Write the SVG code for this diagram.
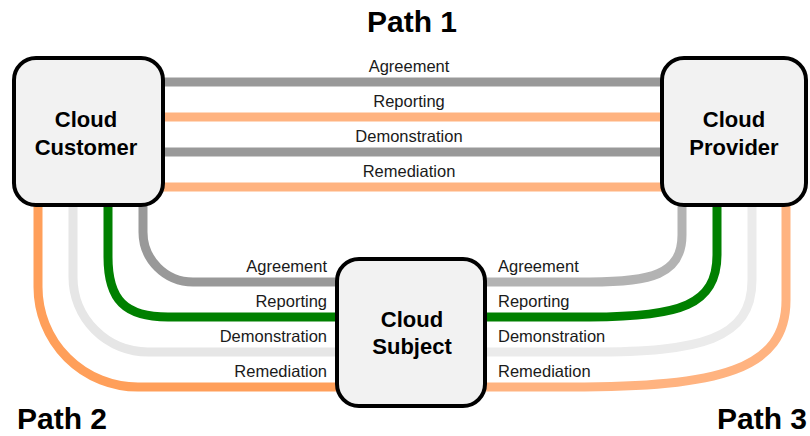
<svg xmlns="http://www.w3.org/2000/svg" width="810" height="436" viewBox="0 0 810 436">
<style>
.c{fill:none;stroke-width:9}
.g1{stroke:#999999}.g2{stroke:#b3b3b3}
.o1{stroke:#ffb380}.o2{stroke:#ff9f5a}
.lg1{stroke:#e6e6e6}.lg2{stroke:#ebebeb}
.gr{stroke:#008000}
.lbl{font-family:"Liberation Sans",Arial,sans-serif;font-size:16.5px;fill:#1a1a1a}
.node rect{fill:#f2f2f2;stroke:#000;stroke-width:4}
.node text{font-family:"Liberation Sans",Arial,sans-serif;font-size:22px;font-weight:bold;fill:#000;text-anchor:middle}
.title{font-family:"Liberation Sans",Arial,sans-serif;font-size:30px;font-weight:bold;fill:#000}
</style>
<rect width="810" height="436" fill="#fff"/>
<g id="connectors">
  <line class="c g1" x1="163" y1="82" x2="662" y2="82"/>
  <line class="c o1" x1="163" y1="117" x2="662" y2="117"/>
  <line class="c g1" x1="163" y1="152" x2="662" y2="152"/>
  <line class="c o1" x1="163" y1="187" x2="662" y2="187"/>
  <path class="c g1" d="M143,205 V232 A50,50 0 0 0 193,282 H339"/>
  <path class="c gr" d="M108,205 V257 C108,300 125,317 168,317 H339"/>
  <path class="c lg1" d="M73,205 V277 A75,75 0 0 0 148,352 H339"/>
  <path class="c o2" d="M38,205 V287 A100,100 0 0 0 138,387 H339"/>
  <path class="c g2" d="M485,282 H590 C650,282 682,275 682,235 V205"/>
  <path class="c gr" d="M485,317 H590 C680,317 717,305 717,255 V205"/>
  <path class="c lg2" d="M485,352 H590 C700,352 752,340 752,280 V205"/>
  <path class="c o1" d="M485,387 H570 C720,387 786,370 786,300 V205"/>
  <g class="lbl" text-anchor="middle">
    <text x="409" y="72">Agreement</text>
    <text x="409" y="107">Reporting</text>
    <text x="409" y="142">Demonstration</text>
    <text x="409" y="177">Remediation</text>
  </g>
  <g class="lbl" text-anchor="end">
    <text x="327" y="272">Agreement</text>
    <text x="327" y="307">Reporting</text>
    <text x="327" y="342">Demonstration</text>
    <text x="327" y="377">Remediation</text>
  </g>
  <g class="lbl" text-anchor="start">
    <text x="498" y="272">Agreement</text>
    <text x="498" y="307">Reporting</text>
    <text x="498" y="342">Demonstration</text>
    <text x="498" y="377">Remediation</text>
  </g>
</g>
<g id="customer" class="node">
  <rect x="14" y="58" width="149" height="147" rx="22"/>
  <text x="86" y="127">Cloud</text>
  <text x="86" y="155">Customer</text>
</g>
<g id="provider" class="node">
  <rect x="662" y="58" width="144" height="147" rx="22"/>
  <text x="734" y="127">Cloud</text>
  <text x="734" y="155">Provider</text>
</g>
<g id="subject" class="node">
  <rect x="337" y="259" width="148" height="147" rx="22"/>
  <text x="412" y="327">Cloud</text>
  <text x="412" y="354">Subject</text>
</g>
<text class="title" x="412" y="32" text-anchor="middle">Path 1</text>
<text class="title" x="17" y="429">Path 2</text>
<text class="title" x="717" y="429">Path 3</text>
</svg>
